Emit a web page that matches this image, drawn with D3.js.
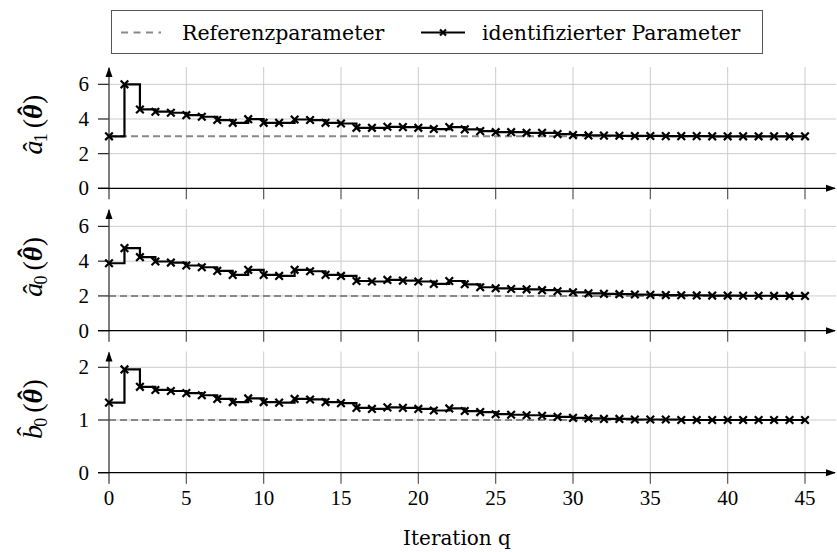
<!DOCTYPE html>
<html>
<head>
<meta charset="utf-8">
<script src="https://cdn.jsdelivr.net/npm/d3@7"></script>
<style>
  body { margin: 0; background: #fff; }
  svg { display: block; }
</style>
</head>
<body>
<svg id="chart" width="837" height="552"></svg>
<script>
// iterations
const iterations = d3.range(0, 46);

// reference values
const refA1 = 3;
const refA0 = 2;
const refB0 = 1;

// identified parameter per iteration
const a1Values = [3.0, 6.0, 4.55, 4.42, 4.36, 4.22, 4.13, 3.94, 3.78, 3.99,
  3.78, 3.78, 3.97, 3.94, 3.78, 3.74, 3.49, 3.49, 3.55, 3.53,
  3.49, 3.42, 3.53, 3.40, 3.30, 3.24, 3.24, 3.20, 3.20, 3.13,
  3.07, 3.05, 3.04, 3.03, 3.02, 3.02, 3.01, 3.01, 3.01, 3.0,
  3.0, 3.0, 3.0, 3.0, 3.0, 3.0];
const a0Values = [3.88, 4.75, 4.23, 3.98, 3.92, 3.75, 3.65, 3.44, 3.21, 3.50,
  3.21, 3.15, 3.50, 3.42, 3.21, 3.15, 2.86, 2.83, 2.92, 2.88,
  2.83, 2.69, 2.86, 2.67, 2.50, 2.44, 2.40, 2.38, 2.33, 2.27,
  2.21, 2.15, 2.12, 2.10, 2.08, 2.06, 2.05, 2.04, 2.03, 2.02,
  2.02, 2.01, 2.01, 2.0, 2.0, 2.0];
const b0Values = [1.33, 1.96, 1.63, 1.57, 1.55, 1.51, 1.47, 1.40, 1.34, 1.41,
  1.34, 1.33, 1.40, 1.39, 1.34, 1.32, 1.23, 1.21, 1.24, 1.23,
  1.21, 1.18, 1.22, 1.17, 1.15, 1.11, 1.10, 1.09, 1.08, 1.06,
  1.04, 1.03, 1.02, 1.02, 1.01, 1.01, 1.01, 1.0, 1.0, 1.0,
  1.0, 1.0, 1.0, 1.0, 1.0, 1.0];

const xTicks = [0, 5, 10, 15, 20, 25, 30, 35, 40, 45];

const panels = [
  { sym: "a", sub: "1", ref: refA1, values: a1Values, max: 7, ticks: [0, 2, 4, 6], top: 67, bottom: 188.3 },
  { sym: "a", sub: "0", ref: refA0, values: a0Values, max: 7, ticks: [0, 2, 4, 6], top: 209, bottom: 330.7 },
  { sym: "b", sub: "0", ref: refB0, values: b0Values, max: 2.3, ticks: [0, 1, 2], top: 351.5, bottom: 472.7 }
];

const SERIF = "Liberation Serif";
const WIDE = "DejaVu Serif";

const svg = d3.select("#chart");
const x = d3.scaleLinear().domain([0, 45]).range([109, 805]);
const gridRight = 836;
const tickLeft = 98;

// arrow heads
const defs = svg.append("defs");
defs.append("marker")
  .attr("id", "arrow")
  .attr("viewBox", "0 0 10 10")
  .attr("refX", 9).attr("refY", 5)
  .attr("markerWidth", 10).attr("markerHeight", 10)
  .attr("markerUnits", "userSpaceOnUse")
  .attr("orient", "auto")
  .append("path")
  .attr("d", "M0,1.5 L10,5 L0,8.5 Z")
  .attr("fill", "#000");

function cross(g, cx, cy, r) {
  g.append("path")
    .attr("d", `M${cx - r},${cy - r}L${cx + r},${cy + r}M${cx - r},${cy + r}L${cx + r},${cy - r}`)
    .attr("stroke", "#000").attr("stroke-width", 2.2).attr("fill", "none");
}

panels.forEach((p, i) => {
  const y = d3.scaleLinear().domain([0, p.max]).range([p.bottom, p.top]);
  const g = svg.append("g");

  // grid
  g.selectAll(".vgrid").data(xTicks).enter().append("line")
    .attr("x1", d => x(d)).attr("x2", d => x(d))
    .attr("y1", p.top).attr("y2", p.bottom)
    .attr("stroke", "#cccccc").attr("stroke-width", 1);
  g.selectAll(".hgrid").data(p.ticks.filter(t => t > 0)).enter().append("line")
    .attr("x1", x(0)).attr("x2", gridRight)
    .attr("y1", d => y(d)).attr("y2", d => y(d))
    .attr("stroke", "#cccccc").attr("stroke-width", 1);

  // x ticks below axis
  g.selectAll(".xtick").data(xTicks.filter(t => t > 0)).enter().append("line")
    .attr("x1", d => x(d)).attr("x2", d => x(d))
    .attr("y1", p.bottom).attr("y2", p.bottom + 11)
    .attr("stroke", "#555").attr("stroke-width", 1.2);

  // y ticks
  g.selectAll(".ytick").data(p.ticks).enter().append("line")
    .attr("x1", tickLeft).attr("x2", x(0))
    .attr("y1", d => y(d)).attr("y2", d => y(d))
    .attr("stroke", "#222").attr("stroke-width", 1.2);
  g.selectAll(".ylab").data(p.ticks).enter().append("text")
    .attr("x", 89).attr("y", d => y(d) + 7)
    .attr("text-anchor", "end").attr("font-size", 21)
    .attr("font-family", SERIF)
    .text(d => d);

  // reference line
  g.append("line")
    .attr("x1", x(0)).attr("x2", x(45))
    .attr("y1", y(p.ref)).attr("y2", y(p.ref))
    .attr("stroke", "#888").attr("stroke-width", 2)
    .attr("stroke-dasharray", "7,4");

  // axes
  g.append("line")
    .attr("x1", x(0)).attr("x2", x(0))
    .attr("y1", p.bottom + 11).attr("y2", p.top + 1)
    .attr("stroke", "#444").attr("stroke-width", 1.3)
    .attr("marker-end", "url(#arrow)");
  g.append("line")
    .attr("x1", tickLeft).attr("x2", 835)
    .attr("y1", p.bottom).attr("y2", p.bottom)
    .attr("stroke", "#000").attr("stroke-width", 1.3)
    .attr("marker-end", "url(#arrow)");

  // identified parameter as step line
  const line = d3.line()
    .x((d, j) => x(iterations[j]))
    .y(d => y(d))
    .curve(d3.curveStepAfter);
  g.append("path")
    .datum(p.values)
    .attr("d", line)
    .attr("fill", "none").attr("stroke", "#000").attr("stroke-width", 2.2);
  p.values.forEach((v, j) => cross(g, x(iterations[j]), y(v), 3.8));

  // rotated y label, hats placed by hand
  const lab = g.append("text")
    .attr("transform", `translate(42,${(p.top + p.bottom) / 2 - 3}) rotate(-90)`)
    .attr("text-anchor", "middle").attr("font-size", 28)
    .attr("font-family", SERIF);
  lab.append("tspan").attr("font-style", "italic").text(p.sym);
  lab.append("tspan").attr("dx", -11).attr("dy", p.sym === "b" ? -6 : 0).text("\u02C6");
  lab.append("tspan").attr("font-size", 18).attr("dx", 0).attr("dy", p.sym === "b" ? 11 : 5).text(p.sub);
  lab.append("tspan").attr("dx", 5).attr("dy", -5).text("(");
  lab.append("tspan").attr("font-style", "italic").attr("font-weight", "bold").text("\u03B8");
  lab.append("tspan").attr("dx", -11).attr("dy", -5).attr("font-weight", "bold").text("\u02C6");
  lab.append("tspan").attr("dx", 2).attr("dy", 5).text(")");
});

// x tick labels
svg.selectAll(".xlab").data(xTicks).enter().append("text")
  .attr("x", d => x(d)).attr("y", 505)
  .attr("text-anchor", "middle").attr("font-size", 21)
  .attr("font-family", SERIF)
  .text(d => d);
svg.append("text")
  .attr("x", 457).attr("y", 545)
  .attr("text-anchor", "middle").attr("font-size", 20)
  .attr("font-family", WIDE)
  .text("Iteration q");

// legend
const leg = svg.append("g");
leg.append("rect")
  .attr("x", 111.5).attr("y", 10.5).attr("width", 651).attr("height", 43)
  .attr("fill", "#fff").attr("stroke", "#555").attr("stroke-width", 1);
leg.append("line")
  .attr("x1", 121).attr("x2", 161).attr("y1", 32.5).attr("y2", 32.5)
  .attr("stroke", "#888").attr("stroke-width", 2).attr("stroke-dasharray", "7,5.5");
leg.append("text").attr("x", 182).attr("y", 39.5).attr("font-size", 20.5)
  .attr("font-family", WIDE).text("Referenzparameter");
leg.append("line")
  .attr("x1", 421).attr("x2", 465).attr("y1", 32.5).attr("y2", 32.5)
  .attr("stroke", "#000").attr("stroke-width", 2.2);
cross(leg, 443, 32.5, 3);
leg.append("text").attr("x", 482).attr("y", 39.5).attr("font-size", 20.5)
  .attr("font-family", WIDE).text("identifizierter Parameter");
</script>
</body>
</html>
